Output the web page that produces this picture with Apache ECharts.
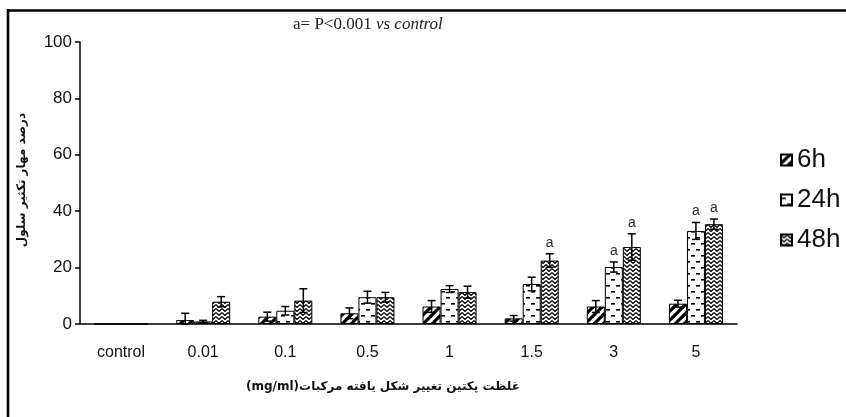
<!DOCTYPE html>
<html><head><meta charset="utf-8">
<script src="https://cdn.jsdelivr.net/npm/echarts@6/dist/echarts.min.js"></script>
<style>html,body{margin:0;padding:0;background:#fff}#c{width:846px;height:417px}</style>
</head><body><div id="c"></div>
<script>
// ---- data ----
const categories = ['control', '0.01', '0.1', '0.5', '1', '1.5', '3', '5'];
const seriesNames = ['6h', '24h', '48h'];
const values6h  = [0, 1.4, 2.6, 3.8, 6.2, 2.0, 6.2, 7.2];
const err6h     = [0, 2.4, 1.6, 1.9, 2.1, 1.0, 2.1, 1.2];
const values24h = [0, 0.9, 4.7, 9.5, 12.4, 14.2, 20.2, 33.0];
const err24h    = [0, 0.4, 1.5, 2.1, 1.2, 2.4, 1.8, 3.0];
const values48h = [0, 7.9, 8.3, 9.5, 11.3, 22.5, 27.3, 35.4];
const err48h    = [0, 1.8, 4.2, 1.7, 2.1, 2.4, 4.7, 1.8];
const sig6h  = [0, 0, 0, 0, 0, 0, 0, 0];
const sig24h = [0, 0, 0, 0, 0, 0, 1, 1];
const sig48h = [0, 0, 0, 0, 0, 1, 1, 1];
const yTicks = [0, 20, 40, 60, 80, 100];
const titleMain = 'a= P<0.001 ';
const titleItalic = 'vs control';
const sigLabel = 'a';
const xAxisName = '\u202Bغلظت پکتین تغییر شکل یافته مرکبات(mg/ml)\u202C';
const yAxisName = 'درصد مهار تکثیر سلول';

// ---- patterns ----
function patternCanvas(w, h, draw) {
  const c = document.createElement('canvas');
  c.width = w; c.height = h;
  const g = c.getContext('2d');
  g.fillStyle = '#fff'; g.fillRect(0, 0, w, h);
  draw(g);
  return { image: c, repeat: 'repeat' };
}
const pat6h = patternCanvas(9, 9, g => {
  g.strokeStyle = '#000'; g.lineWidth = 3.2;
  for (let k = -1; k <= 1; k++) {
    g.beginPath(); g.moveTo(k * 9 - 1, 10); g.lineTo(k * 9 + 10, -1); g.stroke();
  }
});
const pat24h = patternCanvas(10, 12, g => {
  g.fillStyle = '#000';
  g.fillRect(1, 3, 4, 1.6);
  g.fillRect(6, 9, 4, 1.6);
});
const pat48h = patternCanvas(6, 4, g => {
  g.strokeStyle = '#111'; g.lineWidth = 1.3;
  g.beginPath(); g.moveTo(0, 0.5); g.lineTo(3, 3.5); g.lineTo(6, 0.5); g.stroke();
});
const patterns = [pat6h, pat24h, pat48h];
const allValues = [values6h, values24h, values48h];
const allErr = [err6h, err24h, err48h];
const allSig = [sig6h, sig24h, sig48h];

const BAR_W = 18;

function errRender(idx) {
  return function (params, api) {
    const x = api.value(0), v = api.value(1), e = api.value(2), s = api.value(3);
    if (v === 0 && e === 0) return null;
    const cx = api.coord([x, 0])[0] + (idx - 1) * BAR_W;
    const yTop = api.coord([x, v + e])[1];
    const yBot = api.coord([x, Math.max(v - e, 0)])[1];
    const st = { stroke: '#000', lineWidth: 1.5 };
    const ch = [
      { type: 'line', shape: { x1: cx, y1: yTop, x2: cx, y2: yBot }, style: st },
      { type: 'line', shape: { x1: cx - 4, y1: yTop, x2: cx + 4, y2: yTop }, style: st },
      { type: 'line', shape: { x1: cx - 4, y1: yBot, x2: cx + 4, y2: yBot }, style: st }
    ];
    if (s) {
      ch.push({ type: 'text', style: { text: sigLabel, x: cx, y: yTop - 4, align: 'center', verticalAlign: 'bottom',
        font: '14px "Liberation Sans", Arial', fill: '#2a2a38' } });
    }
    return { type: 'group', children: ch };
  };
}

const series = [];
seriesNames.forEach((n, i) => {
  series.push({
    name: n, type: 'bar', barWidth: BAR_W, barGap: '0%',
    data: allValues[i],
    itemStyle: { color: patterns[i], borderColor: '#000', borderWidth: 1 },
    emphasis: { disabled: true }, silent: true, z: 2
  });
});
seriesNames.forEach((n, i) => {
  series.push({
    name: 'err' + n, type: 'custom', renderItem: errRender(i), z: 5, silent: true,
    encode: { x: 0, y: 1 },
    data: categories.map((c, k) => [k, allValues[i][k], allErr[i][k], allSig[i][k]])
  });
});

const chart = echarts.init(document.getElementById('c'));
chart.setOption({
  animation: false,
  backgroundColor: '#fff',
  grid: { left: 80, right: 109, top: 42, bottom: 93, containLabel: false, outerBoundsMode: 'none' },
  legend: {
    data: seriesNames, orient: 'vertical', left: 780, top: 146, padding: 0,
    itemWidth: 11, itemHeight: 11, itemGap: 12, icon: 'rect',
    textStyle: { fontFamily: '"Liberation Sans", Arial', fontSize: 26, color: '#111', lineHeight: 28 },
    selectedMode: false
  },
  xAxis: {
    type: 'category', data: categories,
    axisLine: { lineStyle: { color: '#000', width: 1.5 } },
    axisTick: { show: false },
    axisLabel: { margin: 21, fontFamily: '"Liberation Sans", Arial', fontSize: 16, color: '#111' },
    splitLine: { show: false }
  },
  yAxis: {
    type: 'value', min: yTicks[0], max: yTicks[yTicks.length - 1], interval: yTicks[1] - yTicks[0],
    axisLine: { show: true, lineStyle: { color: '#000', width: 1.5 } },
    axisTick: { show: true, inside: false, length: 5, lineStyle: { color: '#000', width: 1.5 } },
    axisLabel: { margin: 8, fontFamily: '"Liberation Sans", Arial', fontSize: 17, color: '#111' },
    splitLine: { show: false }
  },
  graphic: [
    { type: 'line', shape: { x1: 8, y1: 9, x2: 8, y2: 417 }, style: { stroke: '#000', lineWidth: 2.6 } },
    { type: 'line', shape: { x1: 7, y1: 10.5, x2: 846, y2: 10.5 }, style: { stroke: '#000', lineWidth: 2.6 } },
    { type: 'text', left: 293, top: 16, style: {
        text: '{n|' + titleMain + '}{i|' + titleItalic + '}',
        rich: {
          n: { fontFamily: '"Liberation Serif", "Times New Roman", serif', fontSize: 17, fill: '#222', color: '#222' },
          i: { fontFamily: '"Liberation Serif", "Times New Roman", serif', fontSize: 17, fontStyle: 'italic', fill: '#222', color: '#222' }
        } } },
    { type: 'text', x: 383, y: 387, style: { text: xAxisName, align: 'center', verticalAlign: 'middle',
        font: 'bold 12px "DejaVu Sans", sans-serif', fill: '#111' } },
    { type: 'text', x: 22, y: 180, rotation: Math.PI / 2, style: { text: yAxisName, align: 'center', verticalAlign: 'middle',
        font: 'bold 12px "DejaVu Sans", sans-serif', fill: '#111' } }
  ],
  series: series
});
</script>
</body></html>
